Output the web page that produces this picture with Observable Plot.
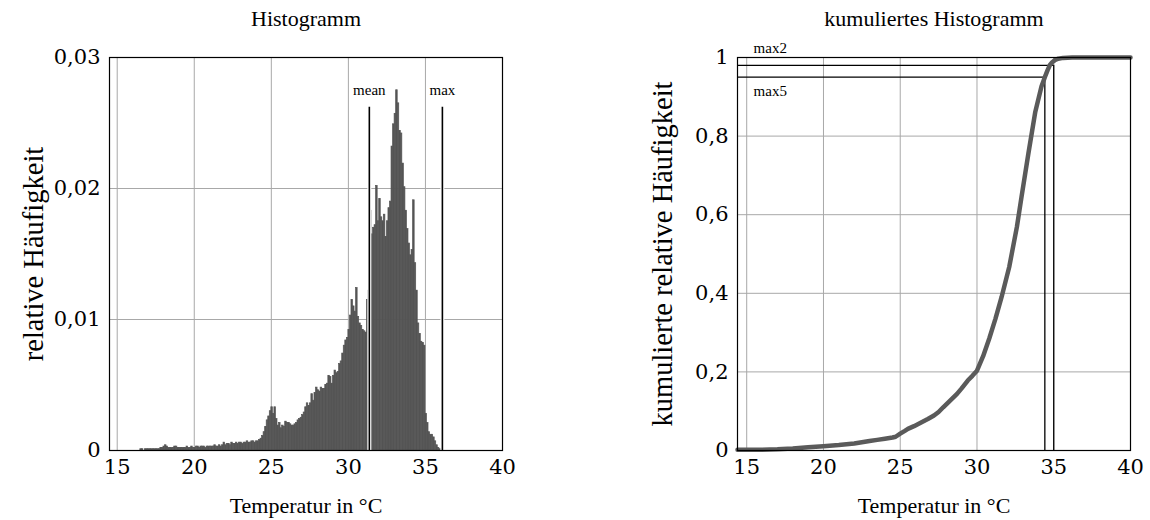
<!DOCTYPE html>
<html>
<head>
<meta charset="utf-8">
<script src="https://cdn.jsdelivr.net/npm/d3@7"></script>
<script src="https://cdn.jsdelivr.net/npm/@observablehq/plot@0.6"></script>
<style>
  html, body { margin: 0; padding: 0; background: #fff; }
  #wrap { position: relative; width: 1150px; height: 520px; overflow: hidden; }
  #left, #right { position: absolute; top: 0; }
  #left { left: 0; }
  #right { left: 575px; }
</style>
</head>
<body>
<div id="wrap"><div id="left"></div><div id="right"></div></div>
<script>
// ---------- data ----------
const titles = ["Histogramm", "kumuliertes Histogramm"];
const xLabel = "Temperatur in °C";
const yLabels = ["relative Häufigkeit", "kumulierte relative Häufigkeit"];
const xTicks = [15, 20, 25, 30, 35, 40];
const yTicksHist = [0, 0.01, 0.02, 0.03];
const yTicksCum = [0, 0.2, 0.4, 0.6, 0.8, 1];

// histogram: bins of 0.1 °C, first bin starts at 16.5 °C
const binStart = 16.5;
const binWidth = 0.1;
const histValues = [
  0.0001,0.0001,0.0000,0.0001,0.0001,0.0001,0.0001,0.0001,0.0001,0.0001,
  0.0001,0.0001,0.0001,0.0002,0.0002,0.0003,0.0004,0.0003,0.0002,0.0002,
  0.0002,0.0002,0.0003,0.0003,0.0002,0.0002,0.0002,0.0002,0.0002,0.0002,
  0.0003,0.0002,0.0002,0.0003,0.0002,0.0002,0.0003,0.0003,0.0002,0.0003,
  0.0003,0.0003,0.0002,0.0003,0.0003,0.0003,0.0003,0.0003,0.0004,0.0003,
  0.0003,0.0004,0.0003,0.0004,0.0006,0.0004,0.0005,0.0005,0.0004,0.0006,
  0.0005,0.0005,0.0006,0.0005,0.0006,0.0006,0.0005,0.0006,0.0006,0.0007,
  0.0006,0.0006,0.0007,0.0007,0.0006,0.0007,0.0007,0.0008,0.0009,0.0011,
  0.0014,0.0018,0.0023,0.0026,0.0030,0.0033,0.0028,0.0033,0.0024,0.0019,
  0.0021,0.0017,0.0019,0.0018,0.0022,0.0021,0.0021,0.0020,0.0019,0.0019,
  0.0020,0.0021,0.0023,0.0024,0.0025,0.0027,0.0029,0.0033,0.0036,0.0034,
  0.0036,0.0043,0.0038,0.0044,0.0048,0.0046,0.0045,0.0048,0.0047,0.0047,
  0.0050,0.0051,0.0057,0.0056,0.0051,0.0057,0.0061,0.0059,0.0060,0.0066,
  0.0068,0.0074,0.0080,0.0084,0.0086,0.0092,0.0103,0.0115,0.0110,0.0106,
  0.0124,0.0102,0.0097,0.0095,0.0092,0.0091,0.0090,0.0115,0.0122,0.0183,
  0.0165,0.0170,0.0172,0.0202,0.0175,0.0192,0.0178,0.0175,0.0180,0.0163,
  0.0175,0.0185,0.0190,0.0232,0.0249,0.0257,0.0275,0.0265,0.0244,0.0242,
  0.0219,0.0201,0.0183,0.0169,0.0158,0.0149,0.0153,0.0191,0.0143,0.0122,
  0.0097,0.0089,0.0083,0.0082,0.0080,0.0028,0.0021,0.0014,0.0012,0.0012,
  0.0010,0.0007,0.0004,0.0002,0.0001
];

// markers in the histogram
const histMarkerLabels = ["mean", "max"];
const histMarkerX = [31.36, 36.1];
const histMarkerTop = 0.0262;

// cumulative histogram curve
const cdfT = [14.4, 16, 17, 18, 19, 20, 21, 22, 22.5, 23, 23.5, 24, 24.5, 24.7, 25.0, 25.3, 25.5, 25.9,
  26.3, 26.8, 27.2, 27.5, 27.8, 28.2, 28.7, 29.0, 29.4, 29.7, 30.0, 30.4, 30.8, 31.2, 31.6,
  32.1, 32.6, 32.9, 33.35, 33.8, 34.2, 34.42, 34.6, 34.75, 34.9, 35.1, 35.3, 35.6, 36.2, 37, 40];
const cdfV = [0.002, 0.002, 0.003, 0.005, 0.008, 0.011, 0.014, 0.018, 0.021, 0.024, 0.027, 0.030, 0.033,
  0.035, 0.043, 0.050, 0.055, 0.062, 0.070, 0.080, 0.089, 0.098, 0.110, 0.125, 0.144, 0.158, 0.178,
  0.190, 0.203, 0.240, 0.285, 0.335, 0.390, 0.467, 0.569, 0.645, 0.756, 0.862, 0.926, 0.950,
  0.968, 0.981, 0.988, 0.994, 0.997, 0.999, 1.0, 1.0, 1.0];

// reference levels in the cumulative histogram
const cumRefLabels = ["max2", "max5"];
const cumRefLevel = [0.98, 0.95];
const cumRefX = [35.0, 34.42];

// ---------- build ----------
const bins = histValues.map((v, i) => ({x1: binStart + i * binWidth, x2: binStart + (i + 1) * binWidth, v}));
const histMarkers = histMarkerLabels.map((label, i) => ({label, x: histMarkerX[i]}));
const cdf = cdfT.map((t, i) => ({t, v: cdfV[i]}));
const refs = cumRefLabels.map((label, i) => ({label, y: cumRefLevel[i], x: cumRefX[i]}));

const fmt = d => String(d).replace(".", ",");
const FONT = "'Liberation Serif', 'DejaVu Serif', serif";
const TICKFONT = "'DejaVu Serif', serif";
const gridStyle = {stroke: "#a8a8a8", strokeOpacity: 1, strokeWidth: 1};

function panel({title, yLabel, xDomain, yDomain, yTicks, marginLeft, marginRight, yLabelDx, inner}) {
  return Plot.plot({
    width: 575, height: 520,
    marginLeft, marginRight, marginTop: 57, marginBottom: 70,
    style: {fontFamily: FONT, background: "white", color: "black"},
    x: {domain: xDomain},
    y: {domain: yDomain},
    marks: [
      Plot.gridX(xTicks.slice(0, -1), gridStyle),
      Plot.gridY(yTicks.slice(1, -1), gridStyle),
      ...inner,
      Plot.axisX({ticks: xTicks, tickSize: 0, tickPadding: 9, fontSize: 21, fontFamily: TICKFONT, label: null, tickFormat: fmt}),
      Plot.axisY({ticks: yTicks, tickSize: 0, tickPadding: 9, fontSize: 21, fontFamily: TICKFONT, label: null, tickFormat: fmt}),
      Plot.text([title], {frameAnchor: "top", dy: -39, lineAnchor: "middle", textAnchor: "middle", fontSize: 22}),
      Plot.text([xLabel], {frameAnchor: "bottom", dy: 55, lineAnchor: "middle", textAnchor: "middle", fontSize: 22}),
      Plot.text([yLabel], {frameAnchor: "left", dx: yLabelDx, rotate: -90, lineAnchor: "middle", textAnchor: "middle", fontSize: 28.5}),
      Plot.frame({stroke: "black", strokeWidth: 1.2})
    ]
  });
}

const left = panel({
  title: titles[0], yLabel: yLabels[0], xDomain: [14.5, 40], yDomain: [0, 0.03], yTicks: yTicksHist,
  marginLeft: 109, marginRight: 73, yLabelDx: -76,
  inner: [
    Plot.rectY(bins, {x1: "x1", x2: "x2", y: "v", fill: "#555555", stroke: "#555555", strokeWidth: 0.7}),
    Plot.ruleX(histMarkers, {x: "x", y1: 0, y2: histMarkerTop, stroke: "white", strokeWidth: 4}),
    Plot.ruleX(histMarkers, {x: "x", y1: 0, y2: histMarkerTop, stroke: "black", strokeWidth: 1.6}),
    Plot.text(histMarkers, {x: "x", y: histMarkerTop, text: "label", dy: -17, fontSize: 15})
  ]
});

const right = panel({
  title: titles[1], yLabel: yLabels[1], xDomain: [14.4, 40], yDomain: [0, 1], yTicks: yTicksCum,
  marginLeft: 162, marginRight: 20, yLabelDx: -75,
  inner: [
    Plot.ruleY(refs, {y: "y", x1: 14.4, x2: "x", stroke: "black", strokeWidth: 1.3}),
    Plot.ruleX(refs, {x: "x", y1: 0, y2: "y", stroke: "black", strokeWidth: 1.3}),
    Plot.line(cdf, {x: "t", y: "v", stroke: "#5a5a5a", strokeWidth: 4.5}),
    Plot.text(refs.filter(d => d.label === "max2"), {x: 15.45, y: 1, text: "label", dy: -9, textAnchor: "start", fontSize: 15}),
    Plot.text(refs.filter(d => d.label === "max5"), {x: 15.45, y: "y", text: "label", dy: 14, textAnchor: "start", fontSize: 15})
  ]
});

document.getElementById("left").appendChild(left);
document.getElementById("right").appendChild(right);
</script>
</body>
</html>
